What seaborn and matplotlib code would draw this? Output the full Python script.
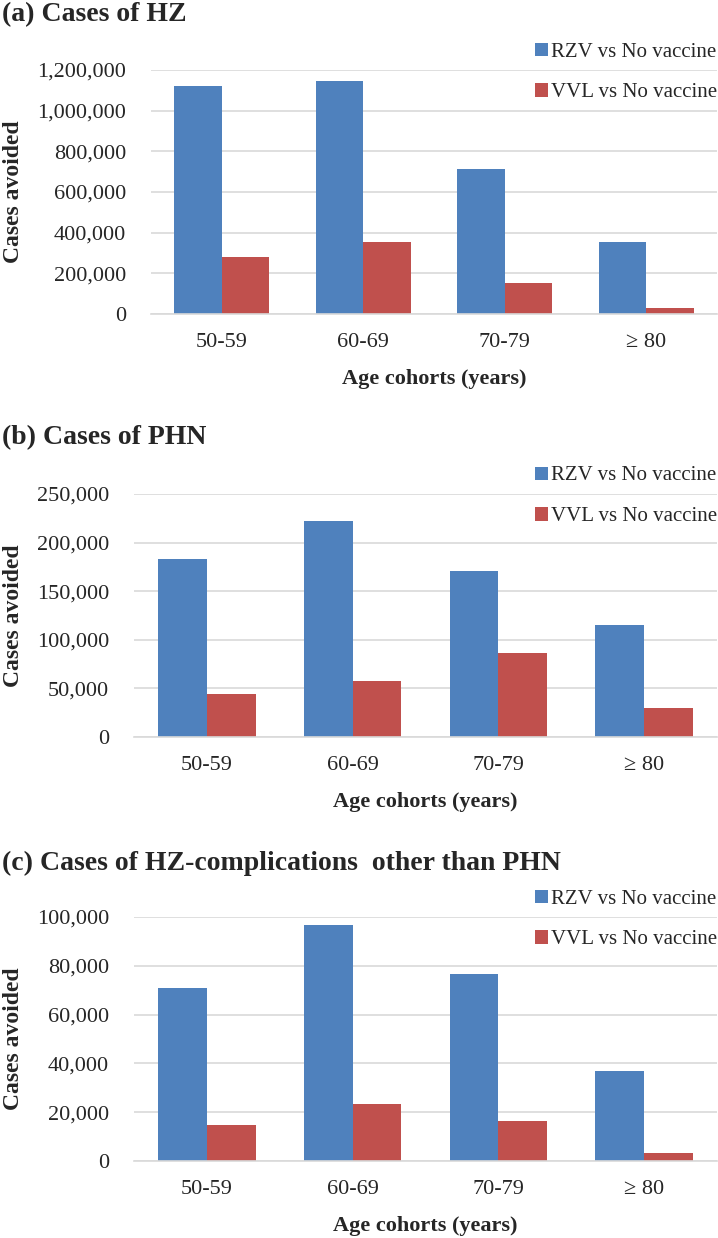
import numpy as np
import pandas as pd
import matplotlib
matplotlib.use('Agg')
import matplotlib.pyplot as plt
import seaborn as sns
from matplotlib.ticker import FuncFormatter

# 数据
age_groups = ['50-59', '60-69', '70-79', '\u2265 80']
series_names = ['RZV vs No vaccine', 'VVL vs No vaccine']

hz_rzv = [1120000, 1148000, 715000, 352000]
hz_vvl = [281000, 352000, 152000, 28000]

phn_rzv = [183000, 222500, 171000, 114800]
phn_vvl = [44200, 57500, 86000, 29500]

comp_rzv = [71100, 96700, 76600, 37000]
comp_vvl = [14600, 23500, 16300, 3400]

titles = ['(a) Cases of HZ', '(b) Cases of PHN',
          '(c) Cases of HZ-complications  other than PHN']
y_ticks = [np.arange(0, 1200001, 200000),
           np.arange(0, 250001, 50000),
           np.arange(0, 100001, 20000)]

colors = ['#4F81BD', '#C0504D']

sns.set_theme(style='white')
plt.rcParams['font.family'] = ['Liberation Serif', 'DejaVu Serif']

fig = plt.figure(figsize=(7.18, 12.38), dpi=100)
H = 1238.0
W = 718.0

# 每个子图的位置 (像素): left, right, top, bottom
boxes = [(151, 717, 70, 314), (134, 717, 494, 737), (134, 717, 917, 1161)]
title_y = [15, 438, 863]
data = [(hz_rzv, hz_vvl), (phn_rzv, phn_vvl), (comp_rzv, comp_vvl)]

for i in range(3):
    l, r, t, b = boxes[i]
    ax = fig.add_axes([l / W, 1 - b / H, (r - l) / W, (b - t) / H])
    rzv, vvl = data[i]
    df = pd.DataFrame({
        'age': age_groups * 2,
        'cases': rzv + vvl,
        'series': [series_names[0]] * 4 + [series_names[1]] * 4,
    })
    sns.barplot(data=df, x='age', y='cases', hue='series', palette=colors,
                width=0.67, saturation=1, linewidth=0, ax=ax, errorbar=None)

    ax.set_ylim(0, y_ticks[i][-1])
    ax.set_yticks(y_ticks[i])
    ax.yaxis.set_major_formatter(FuncFormatter(lambda v, p: f'{int(v):,}'))
    ax.grid(True, axis='y', color='#D9D9D9', linewidth=1.2)
    ax.set_axisbelow(True)
    for s in ['top', 'right', 'left']:
        ax.spines[s].set_visible(False)
    ax.spines['bottom'].set_color('#D9D9D9')
    ax.spines['bottom'].set_linewidth(1.2)
    ax.tick_params(axis='y', length=0, pad=18, labelsize=16)
    ax.tick_params(axis='x', length=0, pad=14, labelsize=16)

    ax.set_xlabel('Age cohorts (years)', fontsize=16, fontweight='bold', labelpad=12)
    ax.set_ylabel('Cases avoided', fontsize=17, fontweight='bold')
    # 让纵轴标题的中心落在 x≈14 像素处
    ax.yaxis.label.set_va('center')
    ax.yaxis.set_label_coords((14 - l) / (r - l), 0.5)

    ax.legend(loc='center right', bbox_to_anchor=(1.0, 0.99),
              frameon=False, fontsize=15, borderaxespad=0, borderpad=0,
              handlelength=0.6, handleheight=0.6, handletextpad=0.15,
              labelspacing=1.05)

    fig.text(2 / W, 1 - title_y[i] / H, titles[i], fontsize=20,
             fontweight='bold', ha='left', va='center')

plt.savefig('out.png', dpi=100)
plt.close()
